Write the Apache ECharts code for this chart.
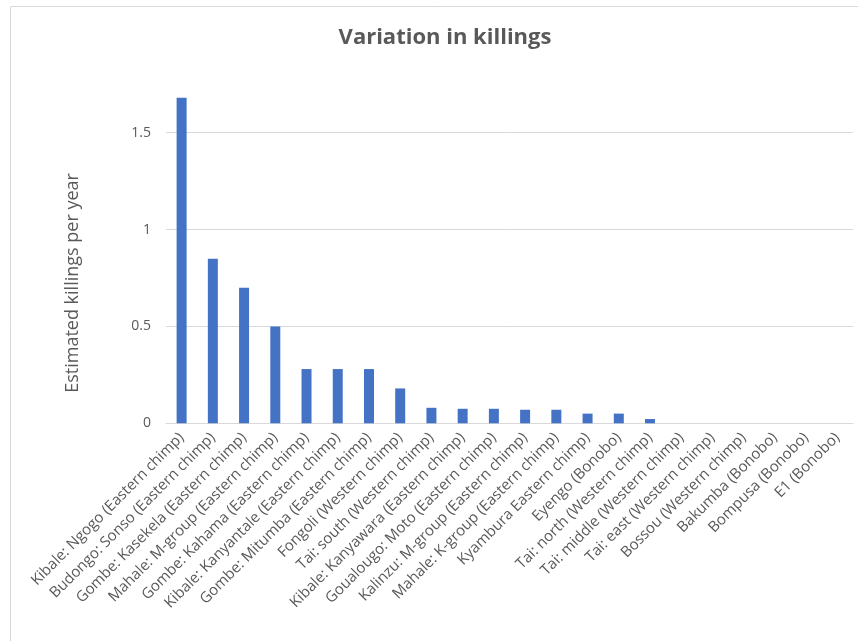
<!DOCTYPE html>
<html>
<head>
<meta charset="utf-8">
<title>Variation in killings</title>
<script src="https://cdn.jsdelivr.net/npm/echarts@6/dist/echarts.min.js"></script>
<style>
    html, body { margin: 0; padding: 0; background: #fff; }
    #killings { width: 858px; height: 641px; }
</style>
</head>
<body>
<div id="killings"></div>
<script type="text/javascript">
// 各群体的估计杀戮数（每年）
var communities = [
    'Kibale: Ngogo (Eastern chimp)',
    'Budongo: Sonso (Eastern chimp)',
    'Gombe: Kasekela (Eastern chimp)',
    'Mahale: M-group (Eastern chimp)',
    'Gombe: Kahama (Eastern chimp)',
    'Kibale: Kanyantale (Eastern chimp)',
    'Gombe: Mitumba (Eastern chimp)',
    'Fongoli (Western chimp)',
    'Tai: south (Western chimp)',
    'Kibale: Kanyawara (Eastern chimp)',
    'Goualougo: Moto (Eastern chimp)',
    'Kalinzu: M-group (Eastern chimp)',
    'Mahale: K-group (Eastern chimp)',
    'Kyambura Eastern chimp)',
    'Eyengo (Bonobo)',
    'Tai: north (Western chimp)',
    'Tai: middle (Western chimp)',
    'Tai: east (Western chimp)',
    'Bossou (Western chimp)',
    'Bakumba (Bonobo)',
    'Bompusa (Bonobo)',
    'E1 (Bonobo)'
]
var killingsPerYear = [1.68, 0.85, 0.70, 0.50, 0.28, 0.28, 0.28, 0.18, 0.08, 0.075, 0.075,
    0.07, 0.07, 0.05, 0.05, 0.022, 0, 0, 0, 0, 0, 0]
var yTicks = [0, 0.5, 1, 1.5]

var font = 'Open Sans, sans-serif'
var grey = '#595959'

var setOption = {
    textStyle: { fontFamily: font },
    graphic: [{
        type: 'rect',
        shape: { x: 10.5, y: 6.5, width: 900, height: 700 },
        style: { fill: 'none', stroke: '#d9d9d9', lineWidth: 1 },
        silent: true
    }],
    title: {
        text: 'Variation in killings',
        left: 440,
        top: 22,
        textAlign: 'center',
        textStyle: {
            fontFamily: font,
            fontSize: 22,
            fontWeight: 'bold',
            color: grey
        }
    },
    grid: {
        left: 166,
        right: 5,
        top: 74.6,
        bottom: 217.7,
        containLabel: false
    },
    xAxis: {
        type: 'category',
        data: communities,
        axisLine: { lineStyle: { color: '#d9d9d9', width: 1 } },
        axisTick: { show: false },
        axisLabel: {
            interval: 0,
            rotate: 45,
            margin: 12,
            fontSize: 15,
            color: grey,
            fontFamily: font
        }
    },
    yAxis: {
        type: 'value',
        min: 0,
        max: 1.8,
        interval: 0.5,
        name: 'Estimated killings per year',
        nameLocation: 'middle',
        nameGap: 84,
        nameTextStyle: {
            fontSize: 18,
            color: grey,
            fontFamily: font,
            padding: [0, 68, 0, 0]
        },
        axisLine: { show: false },
        axisTick: { show: false },
        axisLabel: {
            margin: 15,
            fontSize: 14,
            color: grey,
            fontFamily: font,
            showMaxLabel: false,
            formatter: function (v) {
                return yTicks.indexOf(v) >= 0 ? String(v) : ''
            }
        },
        splitLine: {
            showMaxLine: false,
            lineStyle: { color: '#d9d9d9', width: 1 }
        }
    },
    series: [{
        type: 'bar',
        data: killingsPerYear,
        barWidth: 10,
        itemStyle: { color: '#4472c4' }
    }]
}

var myChart = echarts.init(document.getElementById('killings'))
myChart.setOption(setOption)
</script>
</body>
</html>
